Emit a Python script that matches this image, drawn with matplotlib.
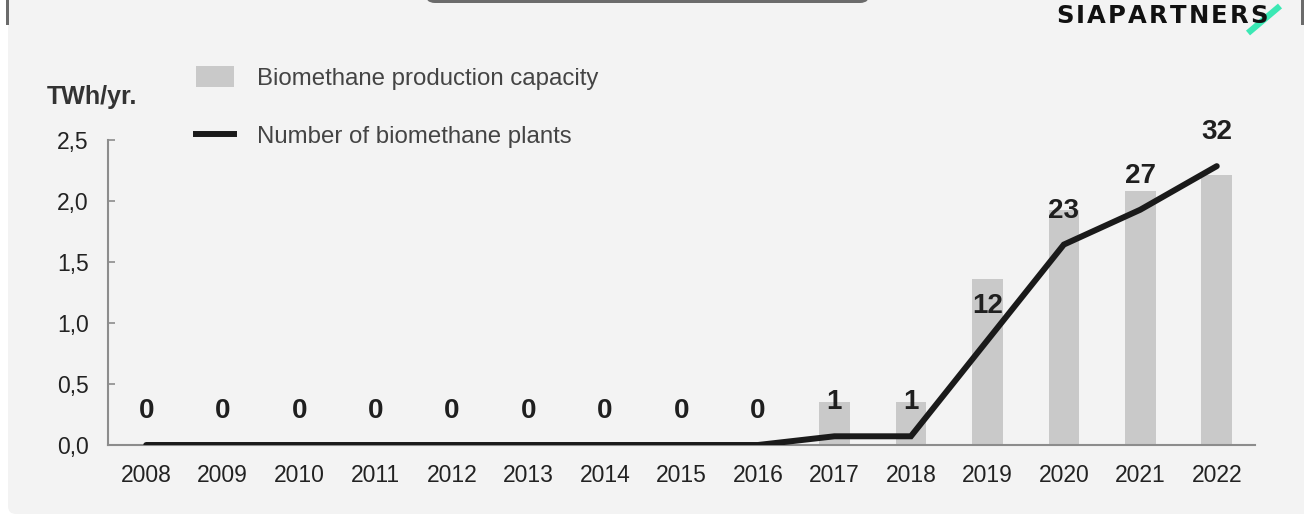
import matplotlib.pyplot as plt
from matplotlib.patches import FancyBboxPatch, Rectangle, Patch
from matplotlib.lines import Line2D
from matplotlib.transforms import IdentityTransform

years = ['2008', '2009', '2010', '2011', '2012', '2013', '2014', '2015',
         '2016', '2017', '2018', '2019', '2020', '2021', '2022']
capacity = [0, 0, 0, 0, 0, 0, 0, 0, 0, 0.35, 0.35, 1.36, 1.93, 2.08, 2.21]
plants = [0, 0, 0, 0, 0, 0, 0, 0, 0, 1, 1, 12, 23, 27, 32]
yticks = [0.0, 0.5, 1.0, 1.5, 2.0, 2.5]
ytick_labels = ['0,0', '0,5', '1,0', '1,5', '2,0', '2,5']

plt.rcParams['font.family'] = ['Liberation Sans', 'DejaVu Sans']

W, H = 1304, 515
fig = plt.figure(figsize=(W / 100, H / 100), dpi=100)
fig.patch.set_facecolor('white')
px = IdentityTransform()

# grey panel behind the chart (pixel coords)
fig.patches.append(FancyBboxPatch((8, 1), 1400, 600, boxstyle='round,pad=0,rounding_size=8',
                                  transform=px, facecolor='#f3f3f3',
                                  edgecolor='none', zorder=-10))
# decorations at the top
fig.patches.append(Rectangle((6, H - 25), 3, 25, transform=px,
                             facecolor='#6b6b6b', edgecolor='none'))
fig.patches.append(Rectangle((1301, H - 25), 3, 25, transform=px,
                             facecolor='#6b6b6b', edgecolor='none'))
fig.patches.append(FancyBboxPatch((425, H - 3), 445, 40,
                                  boxstyle='round,pad=0,rounding_size=10',
                                  transform=px, facecolor='#6b6b6b', edgecolor='none'))

# logo: green slash + letter-spaced word
fig.lines.append(Line2D([1248, 1280], [H - 33, H - 6], transform=px,
                        color='#3be8b4', lw=4.5, solid_capstyle='butt'))
renderer = fig.canvas.get_renderer()
xpos = 1056
for ch in 'SIAPARTNERS':
    t = fig.text(xpos, H - 16, ch, transform=px, fontsize=17.5, fontweight='bold',
                 family='DejaVu Sans', color='#111111', va='center', ha='left')
    xpos += t.get_window_extent(renderer).width + 2.2

ax = fig.add_axes([108 / W, 70 / H, (1255 - 108) / W, 305 / H])
ax.set_facecolor('none')
x = list(range(len(years)))
ax.bar(x, capacity, width=0.4, color='#c9c9c9', zorder=1)
ax.set_xlim(-0.5, len(years) - 0.5)
ax.set_ylim(0, 2.5)
ax.set_yticks(yticks)
ax.set_yticklabels(ytick_labels)
ax.set_xticks(x)
ax.set_xticklabels(years)
for s in ['top', 'right']:
    ax.spines[s].set_visible(False)
for s in ['left', 'bottom']:
    ax.spines[s].set_color('#8c8c8c')
    ax.spines[s].set_linewidth(1.5)
ax.tick_params(axis='y', direction='in', length=5, width=1.2, color='#8c8c8c',
               labelsize=16.5, labelcolor='#222222', pad=14)
ax.tick_params(axis='x', length=0, labelsize=16.5, labelcolor='#222222', pad=14)

ax2 = ax.twinx()
ax2.plot(x, plants, color='#1a1a1a', lw=4.3, solid_capstyle='round',
         solid_joinstyle='miter', zorder=3)
ax2.set_ylim(0, 35)
ax2.axis('off')
for i, v in enumerate(plants):
    ax2.annotate(str(v), (i, v), xytext=(0, 24.5), textcoords='offset points',
                 ha='center', va='center', fontsize=20, fontweight='bold',
                 color='#1f1f1f')

fig.text(47 / W, 1 - 97 / H, 'TWh/yr.', fontsize=18, fontweight='bold',
         color='#333333', va='center', ha='left')

handles = [Patch(facecolor='#c9c9c9', edgecolor='none'),
           Line2D([], [], color='#1a1a1a', lw=4.3)]
labels = ['Biomethane production capacity', 'Number of biomethane plants']
fig.legend(handles, labels, loc='upper left', bbox_to_anchor=(196 / W, 1 - 66 / H),
           frameon=False, fontsize=17.3, handlelength=1.6, handleheight=0.95,
           handletextpad=0.95, labelspacing=1.45, borderpad=0, borderaxespad=0,
           labelcolor='#444444')

fig.savefig('out.png', dpi=100, facecolor=fig.get_facecolor())
